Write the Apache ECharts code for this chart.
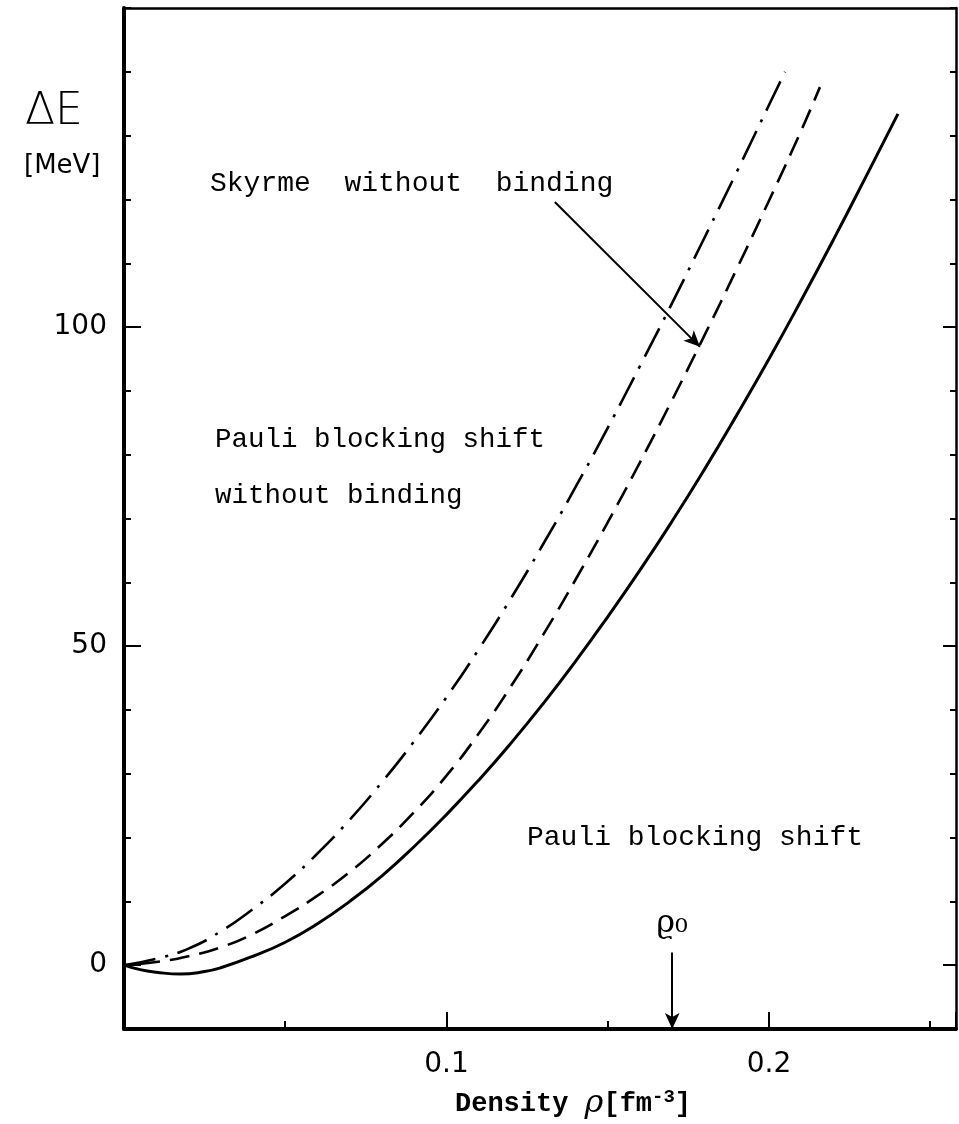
<!DOCTYPE html>
<html>
<head>
<meta charset="utf-8">
<script src="https://cdn.jsdelivr.net/npm/echarts@6/dist/echarts.min.js"></script>
<style>
  html, body { margin: 0; padding: 0; background: #fff; }
  #chart { width: 959px; height: 1124px; }
</style>
</head>
<body>
<div id="chart"></div>
<script>
// Density grid (fm^-3) and energy shift ΔE (MeV) for each curve
const pauliRho = [0, 0.005, 0.01, 0.0175, 0.025, 0.03, 0.04, 0.05, 0.06, 0.07, 0.08, 0.09, 0.10,
  0.11, 0.12, 0.13, 0.14, 0.15, 0.16, 0.17, 0.18, 0.19, 0.20, 0.21, 0.22, 0.23, 0.24];
const pauliShift = [0, -0.7, -1.1, -1.4, -1.0, -0.4, 1.4, 3.6, 6.5, 10.0, 14.0, 18.6, 23.6,
  29.0, 34.8, 41.0, 47.6, 54.6, 61.9, 69.6, 77.7, 86.2, 95.0, 104.2, 113.7, 123.5, 133.4];

const pauliFreeRho = [0, 0.01, 0.02, 0.03, 0.04, 0.05, 0.06, 0.07, 0.08, 0.09, 0.10, 0.11,
  0.12, 0.13, 0.14, 0.15, 0.16, 0.17, 0.18, 0.19, 0.20, 0.21, 0.2158];
const pauliFreeShift = [0, 0.5, 1.4, 2.8, 4.9, 7.7, 10.9, 14.6, 19.0, 24.0, 29.7, 36.3,
  43.7, 51.8, 60.4, 69.4, 78.8, 88.6, 98.7, 109.1, 119.8, 130.8, 137.6];

const skyrmeFreeRho = [0, 0.01, 0.02, 0.03, 0.04, 0.05, 0.06, 0.07, 0.08, 0.09, 0.10, 0.11,
  0.12, 0.13, 0.14, 0.15, 0.16, 0.17, 0.18, 0.19, 0.20, 0.205];
const skyrmeFreeShift = [0, 1.0, 2.6, 5.3, 8.8, 12.8, 17.5, 22.8, 28.7, 35.1, 42.0, 49.5,
  57.5, 66.0, 74.9, 84.2, 93.9, 103.8, 114.0, 124.3, 134.8, 140.0];

// Axis ranges and labelled ticks
const rhoRange = [0, 0.258];
const energyRange = [-10, 150];
const rhoLabels = [0.1, 0.2];
const energyLabels = [0, 50, 100];

// Saturation density marker and the pointer for the Skyrme label
const rho0 = 0.17;
const rho0ArrowTop = 2;
const skyrmePointer = [[0.1336, 119.6], [0.1786, 96.9]];

const zip = (xs, ys) => xs.map((x, i) => [x, ys[i]]);

const mono = '"Liberation Mono", "DejaVu Sans Mono", monospace';
const sans = '"DejaVu Sans", "Liberation Sans", sans-serif';
const gridBox = { left: 124, right: 3, top: 8, bottom: 95 };

const near = (v, list) => list.some(t => Math.abs(v - t) < 1e-6);

const axisBase = (extra) => Object.assign({
  type: 'value',
  axisLabel: { show: false },
  splitLine: { show: false }
}, extra);

const chart = echarts.init(document.getElementById('chart'), null, { renderer: 'canvas' });

chart.setOption({
  animation: false,
  backgroundColor: '#fff',
  grid: [Object.assign({}, gridBox), Object.assign({}, gridBox)],
  xAxis: [
    axisBase({ // bottom axis, short ticks every 0.05
      gridIndex: 0, position: 'bottom', min: rhoRange[0], max: rhoRange[1], interval: 0.05,
      axisLine: { show: true, onZero: false, lineStyle: { color: '#000', width: 4 } },
      axisTick: { show: true, inside: true, length: 8, lineStyle: { color: '#000', width: 2 } },
      axisLabel: {
        show: true, margin: 22, color: '#000', fontSize: 28, fontFamily: sans,
        formatter: v => near(v, rhoLabels) ? String(+v.toFixed(2)) : ''
      }
    }),
    axisBase({ // top frame
      gridIndex: 0, position: 'top', min: rhoRange[0], max: rhoRange[1], interval: 0.05,
      axisLine: { show: true, onZero: false, lineStyle: { color: '#000', width: 2.5 } },
      axisTick: { show: false }
    }),
    axisBase({ // longer ticks at 0.1 steps
      gridIndex: 1, position: 'bottom', min: rhoRange[0], max: rhoRange[1], interval: 0.1,
      axisLine: { show: false, onZero: false },
      axisTick: { show: true, inside: true, length: 17, lineStyle: { color: '#000', width: 2 } }
    })
  ],
  yAxis: [
    axisBase({
      gridIndex: 0, position: 'left', min: energyRange[0], max: energyRange[1], interval: 10,
      axisLine: { show: true, onZero: false, lineStyle: { color: '#000', width: 4 } },
      axisTick: { show: true, inside: true, length: 7, lineStyle: { color: '#000', width: 2 } },
      axisLabel: {
        show: true, margin: 17, color: '#000', fontSize: 28, fontFamily: sans,
        formatter: v => near(v, energyLabels) ? String(v) : ''
      }
    }),
    axisBase({
      gridIndex: 0, position: 'right', min: energyRange[0], max: energyRange[1], interval: 10,
      axisLine: { show: true, onZero: false, lineStyle: { color: '#000', width: 2.5 } },
      axisTick: { show: true, inside: true, length: 6, lineStyle: { color: '#000', width: 2 } }
    }),
    axisBase({
      gridIndex: 1, position: 'left', min: energyRange[0], max: energyRange[1], interval: 10,
      axisLine: { show: false, onZero: false },
      axisTick: { show: true, inside: true, length: 17, customValues: energyLabels, lineStyle: { color: '#000', width: 2 } }
    }),
    axisBase({
      gridIndex: 1, position: 'right', min: energyRange[0], max: energyRange[1], interval: 10,
      axisLine: { show: false, onZero: false },
      axisTick: { show: true, inside: true, length: 13, customValues: energyLabels, lineStyle: { color: '#000', width: 2 } }
    })
  ],
  series: [
    {
      name: 'Skyrme without binding', type: 'line', xAxisIndex: 0, yAxisIndex: 0,
      data: zip(skyrmeFreeRho, skyrmeFreeShift), smooth: 0.5, showSymbol: false,
      lineStyle: { color: '#000', width: 2.6, type: [32, 10, 3, 10] }
    },
    {
      name: 'Pauli blocking shift without binding', type: 'line', xAxisIndex: 0, yAxisIndex: 0,
      data: zip(pauliFreeRho, pauliFreeShift), smooth: 0.5, showSymbol: false,
      lineStyle: { color: '#000', width: 2.6, type: [20, 10], dashOffset: 14 }
    },
    {
      name: 'Pauli blocking shift', type: 'line', xAxisIndex: 0, yAxisIndex: 0,
      data: zip(pauliRho, pauliShift), smooth: 0.5, showSymbol: false,
      lineStyle: { color: '#000', width: 3 },
      markLine: {
        silent: true, symbol: ['none', 'arrow'], symbolSize: [11, 16], precision: 4,
        label: { show: false },
        lineStyle: { color: '#000', width: 2, type: 'solid' },
        data: [
          [{ coord: skyrmePointer[0] }, { coord: skyrmePointer[1] }],
          [{ coord: [rho0, rho0ArrowTop] }, { coord: [rho0, energyRange[0]] }]
        ]
      }
    }
  ],
  graphic: [
    { type: 'text', x: 25, y: 113, style: { text: 'ΔE', font: '300 44px ' + sans, fill: '#000', verticalAlign: 'middle' } },
    { type: 'text', x: 24, y: 166, style: { text: '[MeV]', font: '26px ' + sans, fill: '#000', verticalAlign: 'middle' } },
    { type: 'text', x: 210, y: 184, style: { text: 'Skyrme  without  binding', font: '28px ' + mono, fill: '#000', verticalAlign: 'middle' } },
    { type: 'text', x: 215, y: 440, style: { text: 'Pauli blocking shift', font: '27.5px ' + mono, fill: '#000', verticalAlign: 'middle' } },
    { type: 'text', x: 215, y: 496, style: { text: 'without binding', font: '27.5px ' + mono, fill: '#000', verticalAlign: 'middle' } },
    { type: 'text', x: 527, y: 838, style: { text: 'Pauli blocking shift', font: '28px ' + mono, fill: '#000', verticalAlign: 'middle' } },
    { type: 'text', x: 672, y: 924, style: { text: 'ϱ₀', font: '32px "DejaVu Serif", serif', fill: '#000', align: 'center', verticalAlign: 'middle' } },
    {
      type: 'text', x: 455, y: 1104,
      style: {
        text: '{a|Density }{r|ρ}{a|[fm}{s|-3}{a|]}', align: 'left', verticalAlign: 'middle', fill: '#000',
        rich: {
          a: { font: 'bold 27px ' + mono, fill: '#000' },
          r: { font: 'italic 32px "DejaVu Serif", serif', fill: '#000' },
          s: { font: 'bold 19px ' + mono, fill: '#000', verticalAlign: 'top', padding: [0, 0, 14, 0] }
        }
      }
    }
  ]
});
</script>
</body>
</html>
